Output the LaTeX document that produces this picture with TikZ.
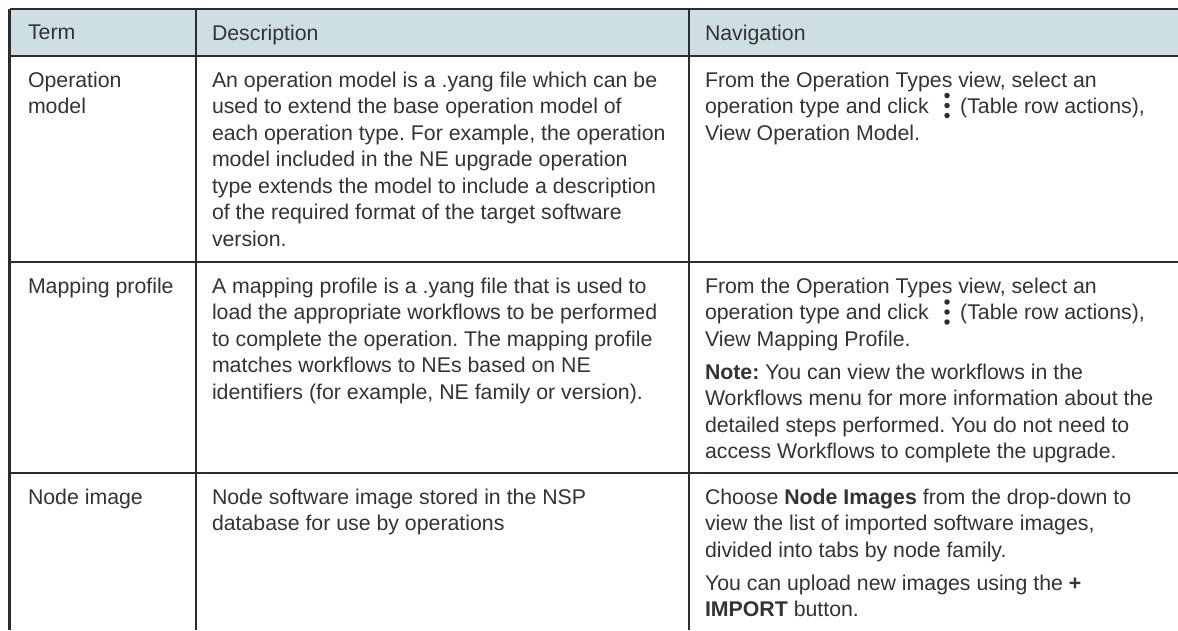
\documentclass[tikz,border=0pt]{standalone}
\usepackage{fontspec}
\setmainfont{Liberation Sans}
\frenchspacing
\definecolor{hdr}{HTML}{CEDFE4}
\definecolor{rulec}{HTML}{2E2B2D}
\definecolor{txt}{HTML}{333333}
\tikzset{
 x=1pt,y=-1pt,
 tline/.style={draw=rulec,line width=2.5pt},
 cell/.style={anchor=north west,inner sep=0pt,outer sep=0pt,align=left,text=txt,font=\fontsize{21.3pt}{26.5pt}\selectfont},
 dotc/.style={fill=rulec,draw=none,circle,minimum size=5.5pt,inner sep=0pt}
}
\begin{document}
\begin{tikzpicture}
\useasboundingbox (0,0) rectangle (1178,630);
\fill[hdr] (9.5,9) rectangle (1178,56);
\coordinate (tl) at (9.5,9);\coordinate (tr) at (1178,9);
\coordinate (hl) at (9.5,56);\coordinate (hr) at (1178,56);
\coordinate (al) at (9.5,262);\coordinate (ar) at (1178,262);
\coordinate (bl) at (9.5,473);\coordinate (br) at (1178,473);
\coordinate (c1t) at (9.5,9);\coordinate (c1b) at (9.5,630);
\coordinate (c2t) at (196,9);\coordinate (c2b) at (196,630);
\coordinate (c3t) at (689,9);\coordinate (c3b) at (689,630);
\draw[tline] (tl)--(tr);
\draw[tline] (hl)--(hr);
\draw[tline] (al)--(ar);
\draw[tline] (bl)--(br);
\draw[tline] (c1t)--(c1b);
\draw[tline] (c2t)--(c2b);
\draw[tline] (c3t)--(c3b);
\node[cell] (h1) at (28,25) {Term};
\node[cell] (h2) at (212,25) {Description};
\node[cell] (h3) at (705,25) {Navigation};
\node[cell] (t1) at (28,72) {Operation\\model};
\node[cell] (d1) at (212,72) {An operation model is a .yang file which can be\\used to extend the base operation model of\\each operation type. For example, the operation\\model included in the NE upgrade operation\\type extends the model to include a description\\of the required format of the target software\\version.};
\node[cell] (n1) at (705,72) {From the Operation Types view, select an\\operation type and click \hspace{25.5pt}(Table row actions),\\View Operation Model.};
\node[cell] (t2) at (28,278) {Mapping profile};
\node[cell] (d2) at (212,278) {A mapping profile is a .yang file that is used to\\load the appropriate workflows to be performed\\to complete the operation. The mapping profile\\matches workflows to NEs based on NE\\identifiers (for example, NE family or version).};
\node[cell] (n2) at (705,278) {From the Operation Types view, select an\\operation type and click \hspace{25.5pt}(Table row actions),\\View Mapping Profile.};
\node[cell] (n2b) at (705,364) {\textbf{Note:} You can view the workflows in the\\Workflows menu for more information about the\\detailed steps performed. You do not need to\\access Workflows to complete the upgrade.};
\node[cell] (t3) at (28,489) {Node image};
\node[cell] (d3) at (212,489) {Node software image stored in the NSP\\database for use by operations};
\node[cell] (n3) at (705,489) {Choose \textbf{Node Images} from the drop-down to\\view the list of imported software images,\\divided into tabs by node family.};
\node[cell] (n3b) at (705,575) {You can upload new images using the \textbf{+}\\\textbf{IMPORT} button.};
\foreach \n/\yy in {a/95.5,b/302}{
 \node[dotc] (\n1) at (947,\yy) {};
 \node[dotc] (\n2) at (947,\yy+10) {};
 \node[dotc] (\n3) at (947,\yy+20) {};
}
\end{tikzpicture}
\end{document}
